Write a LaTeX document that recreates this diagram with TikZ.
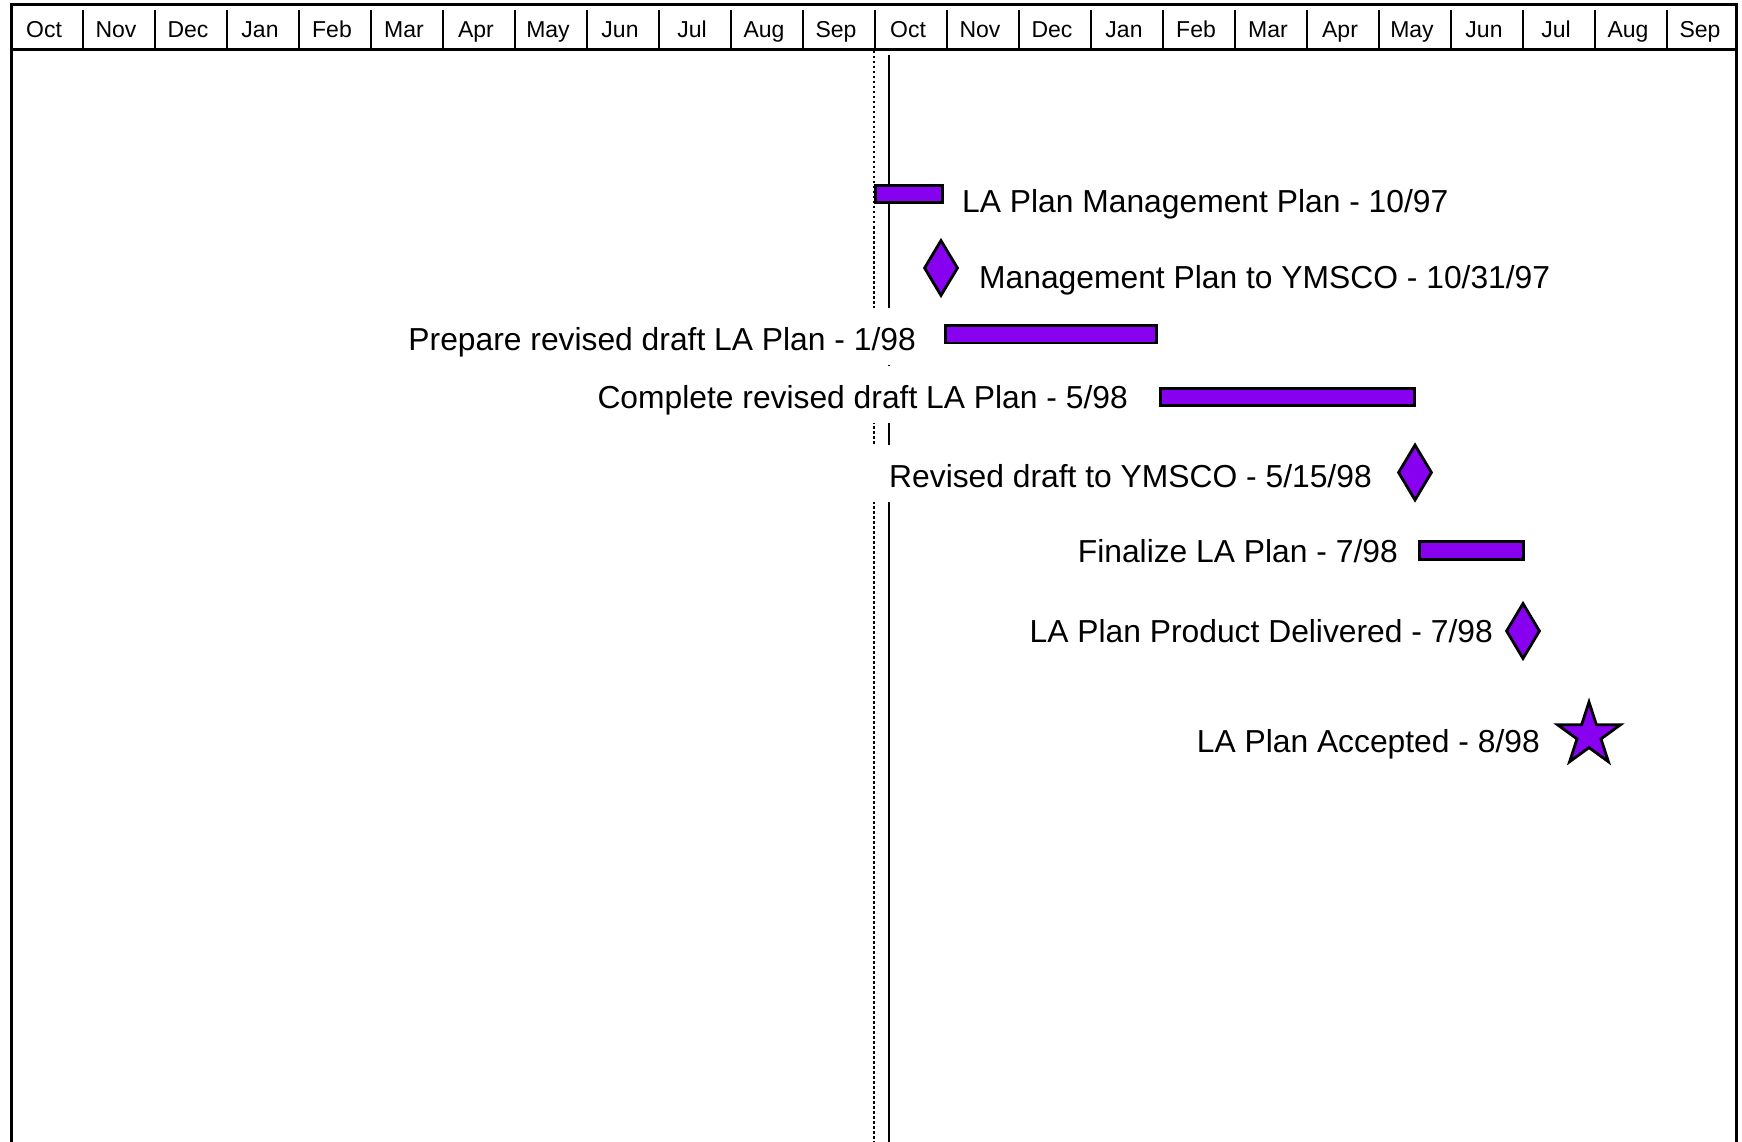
\documentclass[tikz,border=0pt]{standalone}
\usepackage{fontspec}
\setmainfont{Liberation Sans}
\usetikzlibrary{shapes.geometric}
\definecolor{violetfill}{RGB}{136,0,240}
\begin{document}
\begin{tikzpicture}[x=1pt,y=-1pt,
  frameline/.style={line width=3pt},
  sepline/.style={line width=2.6pt},
  monthlabel/.style={font=\fontsize{23}{27}\selectfont, inner sep=0pt, anchor=base},
  barbox/.style={draw, line width=2.8pt, fill=violetfill, anchor=north west, inner sep=0pt},
  milestone/.style={diamond, draw, line width=2.8pt, fill=violetfill, minimum width=34pt, minimum height=56pt, inner sep=0pt},
  starmark/.style={star, star points=5, star point ratio=2.618, draw, line width=2.8pt, fill=violetfill, minimum size=66pt, inner sep=0pt},
  tasklabel/.style={font=\fontsize{31.8}{38}\selectfont, fill=white, inner xsep=18pt, inner ysep=9pt, text height=33pt, text depth=6pt},
  todayline/.style={line width=2.8pt},
  statusline/.style={line width=2.2pt, dash pattern=on 2.5pt off 2.5pt},
]
\useasboundingbox (0,0) rectangle (1742,1142);
% frame and header
\draw[frameline] (11,1142) -- (11,5) -- (1736,5) -- (1736,1142);
\draw[frameline] (11,50) -- (1736,50);
\foreach \i in {1,...,23} \draw[sepline] ({11+72*\i},10) -- ({11+72*\i},50);
\foreach \m [count=\i from 0] in {Oct,Nov,Dec,Jan,Feb,Mar,Apr,May,Jun,Jul,Aug,Sep,Oct,Nov,Dec,Jan,Feb,Mar,Apr,May,Jun,Jul,Aug,Sep}
  \node[monthlabel] (m\i) at ({11+72*(\i+0.5)-3},38) {\m};
% vertical time lines
\draw[statusline] (874,51) -- (874,1142);
\draw[todayline] (889,55) -- (889,1142);
% labels
\node[tasklabel, anchor=base west] (t1) at (944,212) {LA Plan Management Plan - 10/97};
\node[tasklabel, anchor=base west] (t2) at (961,288) {Management Plan to YMSCO - 10/31/97};
\node[tasklabel, anchor=base east] (t3) at (934,350) {Prepare revised draft LA Plan - 1/98};
\node[tasklabel, anchor=base east] (t4) at (1146,408) {Complete revised draft LA Plan - 5/98};
\node[tasklabel, anchor=base west] (t5) at (871,487) {Revised draft to YMSCO - 5/15/98};
\node[tasklabel, anchor=base east] (t6) at (1416,562) {Finalize LA Plan - 7/98};
\node[tasklabel, anchor=base east] (t7) at (1511,642) {LA Plan Product Delivered - 7/98};
\node[tasklabel, anchor=base east] (t8) at (1558,752) {LA Plan Accepted - 8/98};
% bars
\node[barbox, minimum width=67pt, minimum height=17.5pt] (b1) at (874,184) {};
\node[barbox, minimum width=211pt, minimum height=17.5pt] (b3) at (944,324) {};
\node[barbox, minimum width=254pt, minimum height=17pt] (b4) at (1159,387) {};
\node[barbox, minimum width=104pt, minimum height=18pt] (b6) at (1418,540) {};
% milestones
\node[milestone] (d1) at (941,268) {};
\node[milestone] (d2) at (1415,472.5) {};
\node[milestone] (d3) at (1523,631) {};
\node[starmark] (s1) at (1589,735) {};
\end{tikzpicture}
\end{document}
